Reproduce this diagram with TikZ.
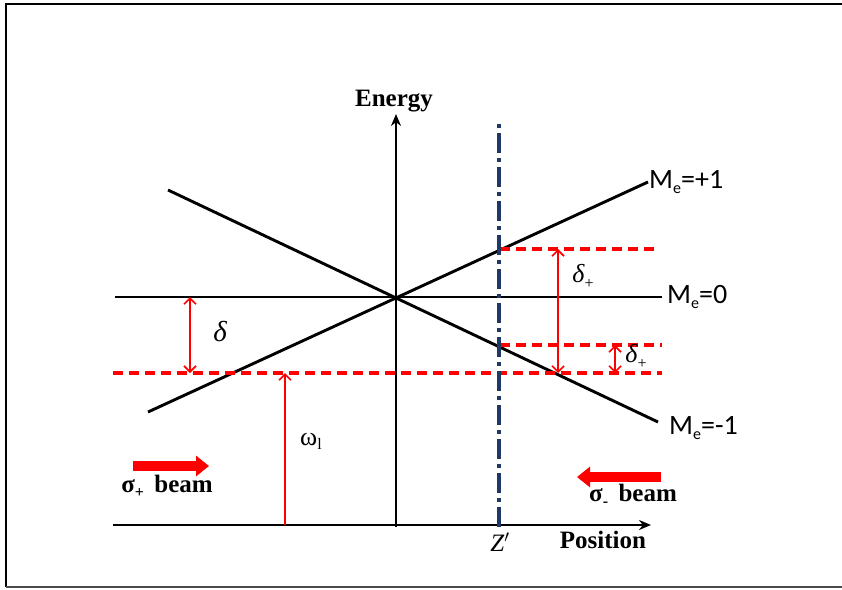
\documentclass[tikz,border=0pt]{standalone}
\usepackage{fontspec}
\setmainfont{Liberation Serif}
\newfontfamily\calibri{Carlito}
\usetikzlibrary{arrows.meta, positioning, calc}
\definecolor{laserred}{HTML}{FF0000}
\definecolor{zprimeblue}{HTML}{1F3864}
\newcommand{\lowsub}[2][5pt]{\raisebox{-#1}{\fontsize{16}{16}\selectfont #2}}

\begin{document}
\begin{tikzpicture}[x=1pt, y=-1pt, >=Stealth,
    level/.style={line width=2.9pt, black},
    axis/.style={line width=2.4pt, black, -{Stealth[length=12pt,width=10pt]}},
    laser/.style={line width=3.1pt, laserred, dash pattern=on 10pt off 6pt},
    gap/.style={line width=1.6pt, laserred, {Straight Barb[length=6pt,width=12pt]}-{Straight Barb[length=6pt,width=12pt]}},
    beam/.style={line width=10pt, laserred, -{Triangle[length=13pt,width=20pt]}},
    melbl/.style={font=\calibri\fontsize{28}{30}\selectfont, anchor=west, inner sep=1pt},
    axlbl/.style={font=\bfseries\fontsize{25}{27}\selectfont, inner sep=1pt}]
    \useasboundingbox (0,0) rectangle (842,589);
    % frame
    \draw[line width=2.6pt] (842,4) -- (6,4) -- (6,587);
    \draw[line width=1.8pt, black!70] (6,587) -- (842,587);

    % points
    \coordinate (O) at (396,297);
    \coordinate (eb) at (396,527);
    \coordinate (et) at (396,114);
    \coordinate (pl) at (113,525);
    \coordinate (pr) at (651,525);
    \coordinate (m0l) at (115,297);
    \coordinate (m0r) at (662,297);
    \coordinate (mpl) at (148,412);
    \coordinate (mpr) at (648,182);
    \coordinate (mml) at (168,190);
    \coordinate (mmr) at (658,422);
    \coordinate (lasl) at (113,373);
    \coordinate (lasr) at (662,373);
    \coordinate (dpl) at (500,249);
    \coordinate (dpr) at (657,249);
    \coordinate (dml) at (500,345);
    \coordinate (dmr) at (662,345);
    \coordinate (zt) at (499,120);
    \coordinate (zb) at (499,527);

    % axes
    \draw[axis] (eb) -- (et);
    \draw[axis] (pl) -- (pr);
    \node[axlbl] (energy) at (394,101) {Energy};
    \node[axlbl] (position) at (603,540) {Position};

    % Zeeman levels
    \draw[level] (m0l) -- (m0r);
    \draw[level] (mpl) -- (mpr);
    \draw[level] (mml) -- (mmr);
    \node[melbl] (me1) at (mpr) {M\lowsub{e}=+1};
    \node[melbl, xshift=4pt] (me0) at (m0r) {M\lowsub{e}=0};
    \node[melbl, xshift=10pt, yshift=-6pt] (mem) at (mmr) {M\lowsub{e}=-1};

    % laser frequency and detuned levels
    \draw[laser] (lasl) -- (lasr);
    \draw[laser] (dpl) -- (dpr);
    \draw[laser] (dml) -- (dmr);

    % position Z'
    \draw[zprimeblue, line width=3.2pt, dash pattern=on 20pt off 5pt on 4pt off 5pt] (zb) -- (zt);
    \node[font=\itshape\fontsize{25}{27}\selectfont, inner sep=1pt] (zlbl) at (500,542) {Z$'$};

    % detunings
    \coordinate (dtop) at (190,297);
    \coordinate (dbot) at (190,373);
    \draw[gap] (dtop) -- (dbot);
    \node[font=\itshape\fontsize{29}{30}\selectfont] (delta) at (220,332) {δ};

    \coordinate (wbot) at (285,525);
    \coordinate (wtop) at (285,373);
    \draw[line width=1.6pt, laserred, -{Straight Barb[length=6pt,width=12pt]}] (wbot) -- (wtop);
    \node[font=\fontsize{26}{28}\selectfont] (omega) at (311,441) {ω\lowsub[4pt]{l}};

    \coordinate (bptop) at (558,249);
    \coordinate (bpbot) at (558,373);
    \draw[gap] (bptop) -- (bpbot);
    \node[font=\fontsize{26}{28}\selectfont] (dplus1) at (583,276) {\textit{δ}\lowsub[6pt]{+}};

    \coordinate (sptop) at (615,345);
    \coordinate (spbot) at (615,373);
    \draw[gap] (sptop) -- (spbot);
    \node[font=\fontsize{26}{28}\selectfont] (dplus2) at (636,356) {\textit{δ}\lowsub[6pt]{+}};

    % beams
    \coordinate (sps) at (133,466);
    \coordinate (spe) at (209,466);
    \draw[beam] (sps) -- (spe);
    \node[axlbl] (spbeam) at (167,486) {σ\lowsub{+}\, beam};
    \coordinate (sms) at (661,477);
    \coordinate (sme) at (577,477);
    \draw[beam] (sms) -- (sme);
    \node[axlbl] (smbeam) at (633,495) {σ\lowsub{-}\, beam};
\end{tikzpicture}
\end{document}
